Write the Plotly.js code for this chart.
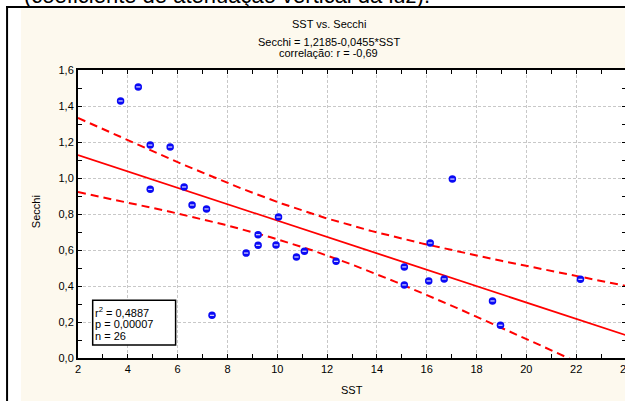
<!DOCTYPE html>
<html><head><meta charset="utf-8">
<script src="https://cdn.plot.ly/plotly-3.0.1.min.js"></script>
<style>html,body{margin:0;padding:0;width:625px;height:401px;overflow:hidden;background:#fff}#chart{width:650px;height:401px}</style>
</head><body><div id="chart"></div>
<script>
// ---- data ----
const sst    = [3.71, 4.42, 4.90, 5.70, 4.90, 6.26, 6.58, 7.16, 10.05, 9.23, 9.23, 8.75, 9.95, 10.77, 11.09, 12.36, 7.38, 15.10, 15.10, 16.14, 16.08, 16.70, 18.64, 18.96, 22.17, 17.03];
const secchi = [1.428, 1.506, 1.183, 1.172, 0.937, 0.950, 0.850, 0.828, 0.783, 0.685, 0.626, 0.583, 0.628, 0.561, 0.593, 0.537, 0.237, 0.506, 0.406, 0.639, 0.428, 0.439, 0.317, 0.182, 0.437, 0.994];
const fitIntercept = 1.2185;
const fitSlope = -0.0455;
const tCrit = 2.0639; // t(0.975, df=24)
const titleLines = ['SST vs. Secchi', 'Secchi = 1,2185-0,0455*SST', 'correlação: r = -0,69'];
const statLines = ['r<sup>2</sup> = 0,4887', 'p = 0,00007', 'n = 26'];
const headerText = '(coeficiente de atenuação vertical da luz).';
const xTitle = 'SST';
const yTitle = 'Secchi';
const xRange = [2, 24];
const yRange = [0, 1.6];

// ---- regression line & 95% confidence band ----
const n = sst.length;
const mx = sst.reduce((a, b) => a + b, 0) / n;
const sxx = sst.reduce((a, x) => a + (x - mx) * (x - mx), 0);
const sse = sst.reduce((a, x, i) => { const r = secchi[i] - (fitIntercept + fitSlope * x); return a + r * r; }, 0);
const se = Math.sqrt(sse / (n - 2));
const gx = [], gy = [], gu = [], gl = [];
for (let k = 0; k <= 220; k++) {
  const x = xRange[0] + k * (xRange[1] - xRange[0]) / 220;
  const y = fitIntercept + fitSlope * x;
  const h = tCrit * se * Math.sqrt(1 / n + (x - mx) * (x - mx) / sxx);
  gx.push(x); gy.push(y); gu.push(y + h); gl.push(y - h);
}

// ---- pixel helpers for layout placement ----
const W = 650, H = 401, L = 78, R = 626.5, T = 70, B = 357.7;
const px = p => (p - L) / (R - L);
const py = p => (B - p) / (B - T);
const FONT = 'Arial, "Liberation Sans", sans-serif';
const cream = '#FDF9EE';

const traces = [
  {x: gx, y: gu, mode: 'lines', line: {color: '#FF0000', width: 2, dash: '8px,5px'}, hoverinfo: 'skip'},
  {x: gx, y: gl, mode: 'lines', line: {color: '#FF0000', width: 2, dash: '8px,5px'}, hoverinfo: 'skip'},
  {x: gx, y: gy, mode: 'lines', line: {color: '#FF0000', width: 1.8}, hoverinfo: 'skip'},
  {x: sst, y: secchi, mode: 'markers', marker: {color: '#0A0AF5', size: 7.5, line: {width: 0}}},
  {x: sst, y: secchi, mode: 'markers', marker: {symbol: 'line-ew', size: 3, line: {color: 'rgba(230,230,255,0.95)', width: 1.2}}, hoverinfo: 'skip'}
];

const annotations = [];
const tY = [24, 42, 53.5];
titleLines.forEach((t, i) => annotations.push({xref: 'paper', yref: 'paper', x: px(329), y: py(tY[i]), xanchor: 'center', yanchor: 'middle', text: t, showarrow: false, font: {family: FONT, size: 11, color: '#000'}}));
const sY = [311.5, 324, 336];
statLines.forEach((t, i) => annotations.push({xref: 'paper', yref: 'paper', x: px(94.5), y: py(sY[i]), xanchor: 'left', yanchor: 'middle', text: t, showarrow: false, font: {family: FONT, size: 11, color: '#000'}, borderpad: 0}));
annotations.push({xref: 'paper', yref: 'paper', x: px(352), y: py(390), xanchor: 'center', yanchor: 'middle', text: xTitle, showarrow: false, font: {family: FONT, size: 11, color: '#000'}});
annotations.push({xref: 'paper', yref: 'paper', x: px(36), y: py(212), xanchor: 'center', yanchor: 'middle', text: yTitle, textangle: -90, showarrow: false, font: {family: FONT, size: 11, color: '#000'}});
annotations.push({xref: 'paper', yref: 'paper', x: px(22), y: py(-4.5), xanchor: 'left', yanchor: 'middle', text: headerText, showarrow: false, font: {family: FONT, size: 22, color: '#000'}});

const shapes = [
  {type: 'rect', xref: 'paper', yref: 'paper', x0: px(-5), x1: px(21), y0: py(410), y1: py(-5), fillcolor: '#fff', line: {width: 0}, layer: 'above'},
  {type: 'rect', xref: 'paper', yref: 'paper', x0: px(-5), x1: px(660), y0: py(8.5), y1: py(-5), fillcolor: '#fff', line: {width: 0}, layer: 'below'},
  {type: 'line', xref: 'paper', yref: 'paper', x0: px(7), x1: px(7), y0: py(410), y1: py(6), line: {color: '#000', width: 2}, layer: 'above'},
  {type: 'line', xref: 'paper', yref: 'paper', x0: px(6), x1: px(660), y0: py(7), y1: py(7), line: {color: '#000', width: 2}, layer: 'above'},
  {type: 'rect', xref: 'paper', yref: 'paper', x0: px(92.7), x1: px(175.7), y0: py(344.7), y1: py(300), fillcolor: '#fff', line: {color: '#000', width: 1.5}, layer: 'above'}
];

const axisCommon = {
  showline: true, linecolor: '#000', linewidth: 2, mirror: 'ticks',
  ticks: 'inside', ticklen: 4, tickwidth: 1, tickcolor: '#000',
  showgrid: true, gridcolor: '#c8c8c8', gridwidth: 1, griddash: '3px,2px',
  zeroline: false, tickfont: {family: FONT, size: 11, color: '#000'}
};

const layout = {
  width: W, height: H,
  margin: {l: L, r: W - R, t: T, b: H - B, pad: 0},
  paper_bgcolor: cream, plot_bgcolor: '#fff',
  showlegend: false, separators: ',.',
  xaxis: Object.assign({}, axisCommon, {range: xRange, tick0: 0, dtick: 2, tickformat: 'd',
    minor: {dtick: 1, ticks: 'inside', ticklen: 4, tickcolor: '#000', showgrid: false}}),
  yaxis: Object.assign({}, axisCommon, {range: yRange, tick0: 0, dtick: 0.2, tickformat: '.1f',
    minor: {dtick: 0.1, ticks: 'inside', ticklen: 4, tickcolor: '#000', showgrid: false}}),
  annotations: annotations, shapes: shapes
};

Plotly.newPlot('chart', traces, layout, {staticPlot: true, displayModeBar: false});
</script></body></html>
